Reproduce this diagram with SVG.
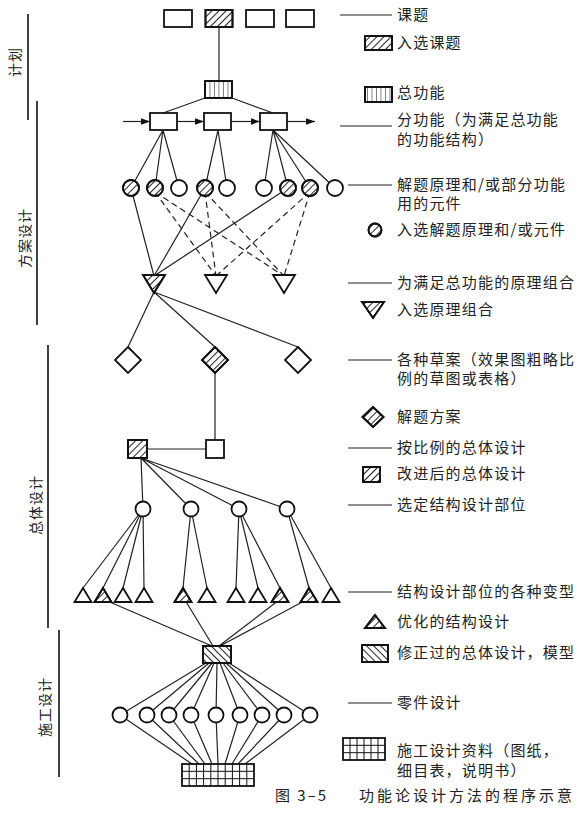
<svg xmlns="http://www.w3.org/2000/svg" width="586" height="828" viewBox="0 0 586 828">
<style>
.ln{stroke:#222;stroke-width:1.2;fill:none}
.dash{stroke-dasharray:6 4}
.nd{stroke:#111;stroke-width:1.8;fill:#fff}
.hs{stroke:#111;stroke-width:1.8;fill:url(#hs)}
.hb{stroke:#111;stroke-width:1.8;fill:url(#hb)}
.hv{stroke:#111;stroke-width:1.8;fill:url(#hv)}
.ph{stroke:#111;stroke-width:1.6;fill:none}
.tx{font-family:"Noto Sans CJK SC","Liberation Sans",sans-serif;font-size:15px;fill:#222;letter-spacing:1.2px}
.lb{font-family:"Noto Sans CJK SC","Liberation Sans",sans-serif;font-size:14px;fill:#222;letter-spacing:1px}
.cap{font-family:"Noto Sans CJK SC","Liberation Serif",serif;font-size:15px;fill:#222}
.gr{stroke:#111;stroke-width:1;fill:none}
</style>
<defs>
<pattern id="hs" width="5" height="5" patternUnits="userSpaceOnUse" patternTransform="rotate(45)"><line x1="2.5" y1="0" x2="2.5" y2="5" stroke="#222" stroke-width="1"/></pattern>
<pattern id="hb" width="5" height="5" patternUnits="userSpaceOnUse" patternTransform="rotate(-45)"><line x1="2.5" y1="0" x2="2.5" y2="5" stroke="#222" stroke-width="1"/></pattern>
<pattern id="hv" width="4.5" height="10" patternUnits="userSpaceOnUse" patternTransform="translate(205,0)"><line x1="0" y1="0" x2="0" y2="10" stroke="#222" stroke-width="1.1"/></pattern>
<marker id="ar" viewBox="0 0 10 10" refX="10" refY="5" markerWidth="9" markerHeight="9" markerUnits="userSpaceOnUse" orient="auto"><path d="M0,1.5 L10,5 L0,8.5 z" fill="#111"/></marker>
</defs>
<rect width="586" height="828" fill="#fff"/>

<g id="phases">
<line class="ph" x1="28" y1="14" x2="28" y2="120"/>
<text class="lb" transform="translate(20,62) rotate(-90)" text-anchor="middle">计划</text>
<line class="ph" x1="37" y1="101" x2="37" y2="325"/>
<text class="lb" transform="translate(30,238) rotate(-90)" text-anchor="middle">方案设计</text>
<line class="ph" x1="48" y1="345" x2="48" y2="628"/>
<text class="lb" transform="translate(41,505) rotate(-90)" text-anchor="middle">总体设计</text>
<line class="ph" x1="59" y1="630" x2="59" y2="777"/>
<text class="lb" transform="translate(50,707) rotate(-90)" text-anchor="middle">施工设计</text>
</g>

<g id="connectors">
<path class="ln" d="M219 27V81"/>
<path class="ln" d="M205 98L163 113M232 98L273 113"/>
<path class="ln" d="M123 121.5H150" marker-end="url(#ar)"/>
<path class="ln" d="M177 121.5H204" marker-end="url(#ar)"/>
<path class="ln" d="M231 121.5H260" marker-end="url(#ar)"/>
<path class="ln" d="M287 121.5H315" marker-end="url(#ar)"/>
<path class="ln" d="M163 130L131 188M163 130L155 188M163 130L179 188M218 130L205 188M218 130L227 188M273 130L264 188M273 130L288 188M273 130L310 188M273 130L335 188"/>
<path class="ln" d="M131 188L154 276M205 188L154 276M288 188L154 276"/>
<path class="ln dash" d="M155 192L216 276M155 192L284 276M205 192L216 276M205 192L284 276M310 192L216 276M310 192L284 276"/>
<path class="ln" d="M154 292L128 347M154 292L215 347M154 292L298 347"/>
<path class="ln" d="M215 373V440M147 449H206"/>
<path class="ln" d="M141 458L143 509M141 458L191 509M141 458L239 509M141 458L287 509"/>
<path class="ln" d="M143 509L83 588M143 509L103 588M143 509L123 588M143 509L144 588M191 509L183 588M191 509L207 588M239 509L236 588M239 509L258 588M239 509L280 588M287 509L309 588M287 509L331 588"/>
<path class="ln" d="M105 600L212 646M185 600L213 646M279 600L219 646M306 600L220 646"/>
<path class="ln" d="M206 663L120 715M209 663L147 715M212 663L169 715M214 663L191 715M217 663L216 715M220 663L240 715M223 663L262 715M226 663L284 715M229 663L310 715"/>
<path class="ln" d="M120 715L192 764M147 715L199 764M169 715L205 764M191 715L212 764M216 715L218 764M240 715L225 764M262 715L232 764M284 715L238 764M310 715L245 764"/>
</g>

<g id="topics">
<g id="topic1"><rect class="nd" x="164" y="10" width="28" height="17"/></g>
<g id="topic2"><rect class="nd" x="205.5" y="10" width="27" height="17"/><rect class="hs" x="205.5" y="10" width="27" height="17"/></g>
<g id="topic3"><rect class="nd" x="246" y="10" width="28" height="17"/></g>
<g id="topic4"><rect class="nd" x="286" y="10" width="28" height="17"/></g>
</g>
<g id="totalfunc"><rect class="nd" x="205" y="81" width="27" height="17"/><rect class="hv" x="205" y="81" width="27" height="17"/></g>
<g id="subfuncs">
<g id="sf1"><rect class="nd" x="150" y="113" width="27" height="17"/></g>
<g id="sf2"><rect class="nd" x="204" y="113" width="27" height="17"/></g>
<g id="sf3"><rect class="nd" x="260" y="113" width="27" height="17"/></g>
</g>
<g id="principles">
<g id="p1"><circle class="nd" cx="131" cy="188" r="8"/><circle class="hs" cx="131" cy="188" r="8"/></g>
<g id="p2"><circle class="nd" cx="155" cy="188" r="8"/><circle class="hs" cx="155" cy="188" r="8"/></g>
<g id="p3"><circle class="nd" cx="179" cy="188" r="8"/></g>
<g id="p4"><circle class="nd" cx="205" cy="188" r="8"/><circle class="hs" cx="205" cy="188" r="8"/></g>
<g id="p5"><circle class="nd" cx="227" cy="188" r="8"/></g>
<g id="p6"><circle class="nd" cx="264" cy="188" r="8"/></g>
<g id="p7"><circle class="nd" cx="288" cy="188" r="8"/><circle class="hs" cx="288" cy="188" r="8"/></g>
<g id="p8"><circle class="nd" cx="310" cy="188" r="8"/><circle class="hs" cx="310" cy="188" r="8"/></g>
<g id="p9"><circle class="nd" cx="335" cy="188" r="8"/></g>
</g>
<g id="combos">
<g id="cb1"><polygon class="nd" points="143,275 165,275 154,293"/><polygon class="hs" points="143,275 165,275 154,293"/></g>
<g id="cb2"><polygon class="nd" points="205,275 227,275 216,293"/></g>
<g id="cb3"><polygon class="nd" points="273,275 295,275 284,293"/></g>
</g>
<g id="drafts">
<g id="d1"><polygon class="nd" points="128,347 141,360 128,373 115,360"/></g>
<g id="d2"><polygon class="nd" points="215,347 228,360 215,373 202,360"/><polygon class="hs" points="215,347 228,360 215,373 202,360"/></g>
<g id="d3"><polygon class="nd" points="298,347 311,360 298,373 285,360"/></g>
</g>
<g id="overall">
<g id="ov1"><rect class="nd" x="128" y="440" width="19" height="18"/><rect class="hs" x="128" y="440" width="19" height="18"/></g>
<g id="ov2"><rect class="nd" x="206" y="440" width="18" height="18"/></g>
</g>
<g id="parts">
<g id="sp1"><circle class="nd" cx="143" cy="509" r="7.5"/></g>
<g id="sp2"><circle class="nd" cx="191" cy="509" r="7.5"/></g>
<g id="sp3"><circle class="nd" cx="239" cy="509" r="7.5"/></g>
<g id="sp4"><circle class="nd" cx="287" cy="509" r="7.5"/></g>
</g>
<g id="variants">
<g id="v1"><polygon class="nd" points="83,588 91.5,602 74.5,602"/></g>
<g id="v2"><polygon class="nd" points="103,588 111.5,602 94.5,602"/><polygon class="hs" points="103,588 111.5,602 94.5,602"/></g>
<g id="v3"><polygon class="nd" points="123,588 131.5,602 114.5,602"/></g>
<g id="v4"><polygon class="nd" points="144,588 152.5,602 135.5,602"/></g>
<g id="v5"><polygon class="nd" points="183,588 191.5,602 174.5,602"/><polygon class="hs" points="183,588 191.5,602 174.5,602"/></g>
<g id="v6"><polygon class="nd" points="207,588 215.5,602 198.5,602"/></g>
<g id="v7"><polygon class="nd" points="236,588 244.5,602 227.5,602"/></g>
<g id="v8"><polygon class="nd" points="258,588 266.5,602 249.5,602"/></g>
<g id="v9"><polygon class="nd" points="280,588 288.5,602 271.5,602"/><polygon class="hs" points="280,588 288.5,602 271.5,602"/></g>
<g id="v10"><polygon class="nd" points="309,588 317.5,602 300.5,602"/><polygon class="hs" points="309,588 317.5,602 300.5,602"/></g>
<g id="v11"><polygon class="nd" points="331,588 339.5,602 322.5,602"/></g>
</g>
<g id="revised"><rect class="nd" x="203" y="646" width="28" height="17"/><rect class="hb" x="203" y="646" width="28" height="17"/></g>
<g id="components">
<g id="k1"><circle class="nd" cx="120" cy="715" r="7.5"/></g>
<g id="k2"><circle class="nd" cx="147" cy="715" r="7.5"/></g>
<g id="k3"><circle class="nd" cx="169" cy="715" r="7.5"/></g>
<g id="k4"><circle class="nd" cx="191" cy="715" r="7.5"/></g>
<g id="k5"><circle class="nd" cx="216" cy="715" r="7.5"/></g>
<g id="k6"><circle class="nd" cx="240" cy="715" r="7.5"/></g>
<g id="k7"><circle class="nd" cx="262" cy="715" r="7.5"/></g>
<g id="k8"><circle class="nd" cx="284" cy="715" r="7.5"/></g>
<g id="k9"><circle class="nd" cx="310" cy="715" r="7.5"/></g>
</g>
<g id="documents">
<rect class="nd" x="182" y="764" width="72" height="22"/>
<path class="gr" d="M189.2 764V786M196.4 764V786M203.6 764V786M210.8 764V786M218 764V786M225.2 764V786M232.4 764V786M239.6 764V786M246.8 764V786M182 771.3H254M182 778.7H254"/>
</g>

<g id="legend">
<line class="ln" x1="340" y1="15" x2="392" y2="15"/>
<text class="tx" x="397" y="20">课题</text>
<rect class="nd" x="365" y="36" width="27" height="14"/><rect class="hs" x="365" y="36" width="27" height="14"/>
<text class="tx" x="397" y="48">入选课题</text>
<rect class="nd" x="365" y="87" width="27" height="15"/><rect class="hv" x="365" y="87" width="27" height="15"/>
<text class="tx" x="397" y="98">总功能</text>
<line class="ln" x1="340" y1="126" x2="392" y2="126"/>
<text class="tx" x="397" y="125">分功能（为满足总功能</text>
<text class="tx" x="397" y="145">的功能结构）</text>
<line class="ln" x1="348" y1="185" x2="392" y2="185"/>
<text class="tx" x="397" y="190">解题原理和/或部分功能</text>
<text class="tx" x="397" y="209">用的元件</text>
<circle class="nd" cx="375" cy="230" r="6.5"/><circle class="hs" cx="375" cy="230" r="6.5"/>
<text class="tx" x="397" y="235">入选解题原理和/或元件</text>
<line class="ln" x1="348" y1="283" x2="392" y2="283"/>
<text class="tx" x="397" y="288">为满足总功能的原理组合</text>
<polygon class="nd" points="362,302 384,302 373,318"/><polygon class="hs" points="362,302 384,302 373,318"/>
<text class="tx" x="397" y="315">入选原理组合</text>
<line class="ln" x1="348" y1="360" x2="392" y2="360"/>
<text class="tx" x="397" y="365">各种草案（效果图粗略比</text>
<text class="tx" x="397" y="384">例的草图或表格）</text>
<polygon class="nd" points="373,407 383.5,417 373,427 362.5,417"/><polygon class="hs" points="373,407 383.5,417 373,427 362.5,417"/>
<text class="tx" x="397" y="422">解题方案</text>
<line class="ln" x1="348" y1="448" x2="392" y2="448"/>
<text class="tx" x="397" y="453">按比例的总体设计</text>
<rect class="nd" x="363" y="467" width="17" height="15"/><rect class="hs" x="363" y="467" width="17" height="15"/>
<text class="tx" x="397" y="479">改进后的总体设计</text>
<line class="ln" x1="348" y1="505" x2="392" y2="505"/>
<text class="tx" x="397" y="510">选定结构设计部位</text>
<line class="ln" x1="348" y1="592" x2="392" y2="592"/>
<text class="tx" x="397" y="597">结构设计部位的各种变型</text>
<polygon class="nd" points="375,615 385,628 365,628"/><polygon class="hs" points="375,615 385,628 365,628"/>
<text class="tx" x="397" y="627">优化的结构设计</text>
<rect class="nd" x="362" y="645" width="26" height="17"/><rect class="hb" x="362" y="645" width="26" height="17"/>
<text class="tx" x="397" y="658">修正过的总体设计，模型</text>
<line class="ln" x1="348" y1="703" x2="392" y2="703"/>
<text class="tx" x="397" y="708">零件设计</text>
<rect class="nd" x="343" y="738" width="42" height="22"/>
<path class="gr" d="M350 738V760M357 738V760M364 738V760M371 738V760M378 738V760M343 745.3H385M343 752.7H385"/>
<text class="tx" x="397" y="756">施工设计资料（图纸，</text>
<text class="tx" x="397" y="776">细目表，说明书）</text>
</g>

<text class="cap" y="801"><tspan x="275" letter-spacing="2">图 3–5</tspan><tspan x="359" letter-spacing="3">功能论设计方法的程序示意</tspan></text>
</svg>
